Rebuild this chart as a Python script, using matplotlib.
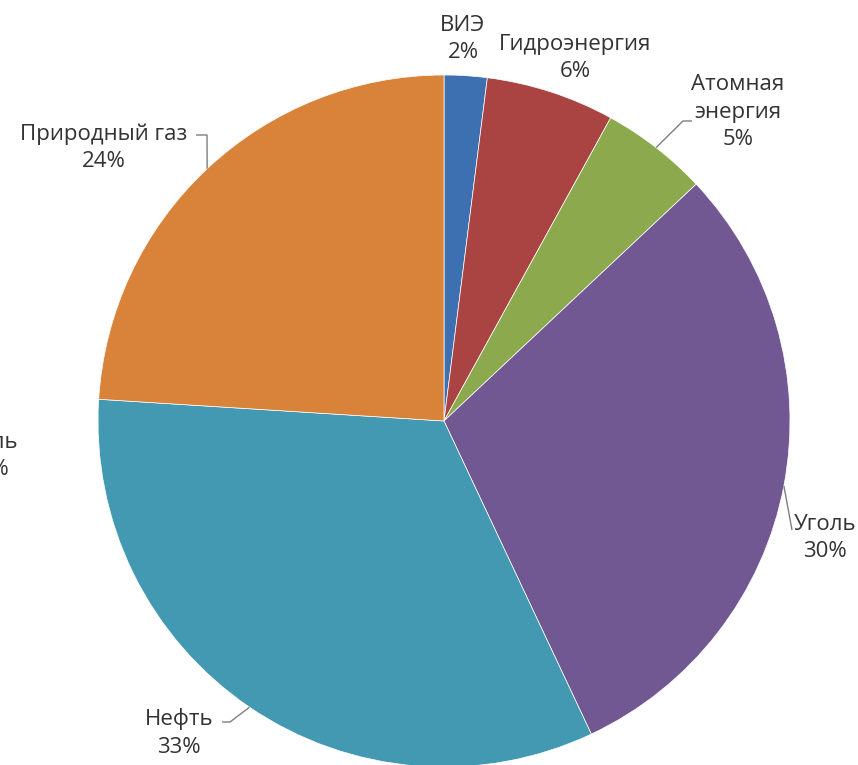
import numpy as np
import matplotlib
matplotlib.use("Agg")
import matplotlib.pyplot as plt

plt.rcParams["font.family"] = ["Open Sans", "DejaVu Sans"]

# Energy mix shares, clockwise from 12 o'clock
sources = ["ВИЭ", "Гидроэнергия", "Атомная\nэнергия", "Уголь", "Нефть", "Природный газ"]
shares = [2, 6, 5, 30, 33, 24]
colors = ["#3C70B0", "#A94442", "#8CAA4D", "#725893", "#4399B1", "#D9833A"]

W, H = 858, 765
CX, CY, R = 444, 421, 346
TEXT = "#333333"
LEAD = "#7f7f7f"
FS = 16
LS = 1.38


def px(x, y):
    """Pixel position (origin top-left) -> data coords (origin bottom-left)."""
    return x, H - y


fig = plt.figure(figsize=(W / 100, H / 100), dpi=100)
ax = fig.add_axes([0, 0, 1, 1])

wedges, _ = ax.pie(
    shares, colors=colors, startangle=90, counterclock=False,
    radius=R, center=px(CX, CY),
    wedgeprops=dict(edgecolor="white", linewidth=0.5),
)

# label layout: text centre, leader elbow (None = no leader)
label_pos = [(463, 39), (575, 58), (738, 112), (825, 538), (179, 733), (104, 148)]
elbows = [None, None, (683, 121), (792, 530), (230, 722), (207, 135)]
leader_end = [None, None, (692, 121), None, (222, 722), (196, 135)]

cum = np.cumsum([0] + shares)
for i, (name, val) in enumerate(zip(sources, shares)):
    tx, ty = label_pos[i]
    ax.text(*px(tx, ty), f"{name}\n{val}%", ha="center", va="center",
            fontsize=FS, color=TEXT, linespacing=LS)
    if elbows[i] is None:
        continue
    mid = np.deg2rad(90 - (cum[i] + val / 2) * 3.6)
    ex, ey = CX + R * np.cos(mid), CY - R * np.sin(mid)
    pts = [(ex, ey), elbows[i]]
    if leader_end[i] is not None:
        pts.append(leader_end[i])
    xs, ys = zip(*[px(*p) for p in pts])
    ax.plot(xs, ys, color=LEAD, lw=1.0, solid_capstyle="butt")

# neighbouring chart's label cut by the left edge
ax.text(*px(-13, 456), "Уголь\n30%", ha="center", va="center",
        fontsize=FS, color=TEXT, linespacing=LS)

ax.set_xlim(0, W)
ax.set_ylim(0, H)
ax.set_aspect("equal")
ax.axis("off")

fig.savefig("out.png", dpi=100)
